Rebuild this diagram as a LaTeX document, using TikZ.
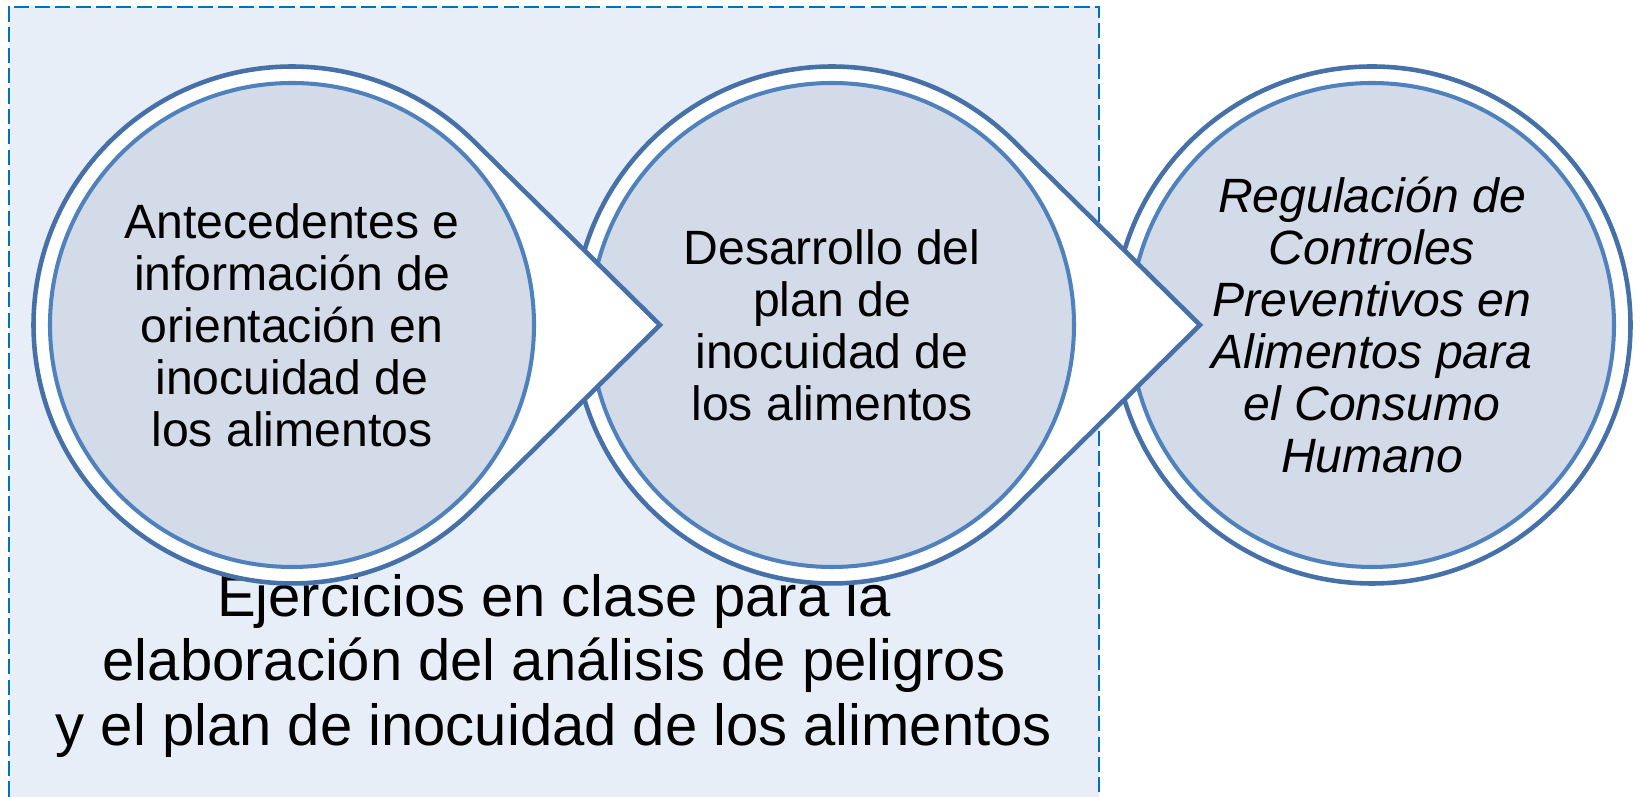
\documentclass[tikz,border=0pt]{standalone}
\usepackage{fontspec}
\setmainfont{Liberation Sans}
\definecolor{panelfill}{HTML}{E7EEF7}
\definecolor{paneldash}{HTML}{0070C0}
\definecolor{ringline}{HTML}{4670A8}
\definecolor{discline}{HTML}{4F81BD}
\definecolor{discfill}{HTML}{D3DBE8}
\newcommand{\discfont}{\fontsize{13.7}{14.8}\selectfont}

\begin{document}
\begin{tikzpicture}[>=latex,
    ring/.style={draw=ringline, line width=1.3pt, fill=white, line join=miter},
    disc/.style={circle, draw=discline, fill=discfill, line width=1.15pt, minimum size=4.84cm, inner sep=0pt, align=center, font=\discfont}]
    \useasboundingbox (0,0) rectangle (16.41,7.97);
    % dashed panel, open at the bottom
    \draw[paneldash, fill=panelfill, line width=0.6pt, dash pattern=on 4.3pt off 1.5pt] (0.09,-0.2) rectangle (10.99,7.90);
    \node[align=center, font=\fontsize{16.5}{18.4}\selectfont] (task) at (5.54,1.31) {Ejercicios en clase para la\\elaboración del análisis de peligros\\y el plan de inocuidad de los alimentos};

    \coordinate (o1) at (2.92,4.72);
    \coordinate (o2) at (8.32,4.72);
    \coordinate (o3) at (13.72,4.72);
    \coordinate (t1) at (6.60,4.72);
    \coordinate (t2) at (12.00,4.72);

    % right to left, so each arrow lies over the next ring
    \draw[ring] (o3) circle[radius=2.585];
    \node[disc, font=\discfont\itshape] (c3) at (o3) {Regulación de\\Controles\\Preventivos en\\Alimentos para\\el Consumo\\Humano};

    \draw[ring] (o2) ++(45.4:2.585) arc[start angle=45.4, end angle=314.6, radius=2.585] -- (t2) -- cycle;
    \node[disc] (c2) at (o2) {Desarrollo del\\plan de\\inocuidad de\\los alimentos};

    \draw[ring] (o1) ++(45.4:2.585) arc[start angle=45.4, end angle=314.6, radius=2.585] -- (t1) -- cycle;
    \node[disc] (c1) at (o1) {Antecedentes e\\información de\\orientación en\\inocuidad de\\los alimentos};
\end{tikzpicture}
\end{document}
